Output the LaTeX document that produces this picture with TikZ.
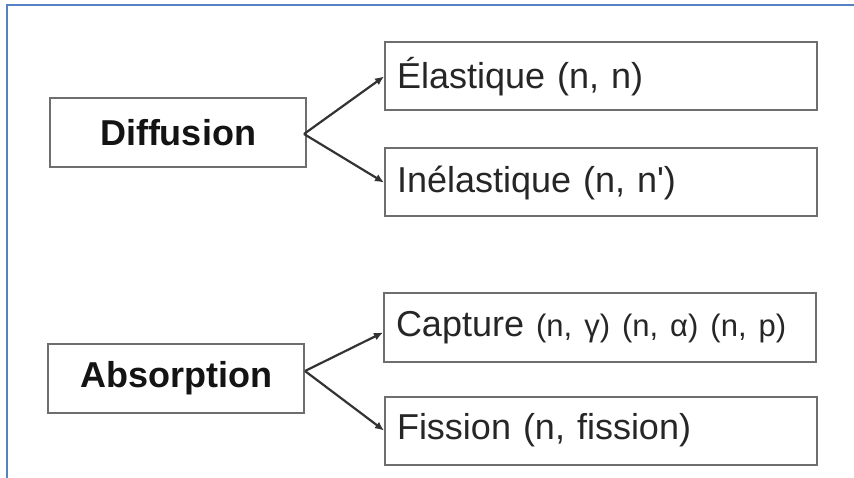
\documentclass[tikz,border=0pt]{standalone}
\usepackage{fontspec}
\setmainfont{Liberation Sans}
\usetikzlibrary{arrows.meta,positioning}
\definecolor{framblue}{HTML}{5582C4}
\definecolor{boxgray}{HTML}{6E6E6E}
\definecolor{txtgray}{HTML}{262626}
\tikzset{
  kindbox/.style={draw=boxgray, line width=2pt, minimum width=256pt, minimum height=69pt,
    font=\fontsize{36}{40}\selectfont\bfseries, text=black!92},
  reacbox/.style={draw=boxgray, line width=2pt, minimum width=432pt, minimum height=68pt,
    text width=408pt, align=left, inner xsep=12pt,
    font=\fontsize{36}{40}\selectfont, text=txtgray},
  branch/.style={draw=black!80, line width=2.2pt, -{Latex[length=9pt,width=8pt]}}
}
\begin{document}
\begin{tikzpicture}[x=1pt,y=-1pt]
  \useasboundingbox (0,0) rectangle (854,478);
  % page frame
  \draw[framblue, line width=2.2pt] (7,478) -- (7,5) -- (854,5);

  \node[kindbox] (diff) at (178,132.5) {Diffusion};
  \node[kindbox] (abso) at (176,378) {Absorption};

  \node[reacbox] (elas) at (601,76.5) {Élastique (n, n)};
  \node[reacbox] (inel) at (601,182.5) {Inélastique (n, n\textquotesingle)};
  \node[reacbox] (capt) at (600,327.5) {Capture {\fontsize{31}{36}\selectfont (n, γ) (n, α) (n, p)}};
  \node[reacbox] (fiss) at (601,430.5) {Fission (n, fission)};

  \coordinate (dfork) at (304,134);
  \coordinate (afork) at (305,371);
  \draw[branch] (dfork) -- (elas.west);
  \draw[branch] (dfork) -- (inel.west);
  \draw[branch] (afork) -- ([yshift=-5pt]capt.west);
  \draw[branch] (afork) -- (fiss.west);
\end{tikzpicture}
\end{document}
